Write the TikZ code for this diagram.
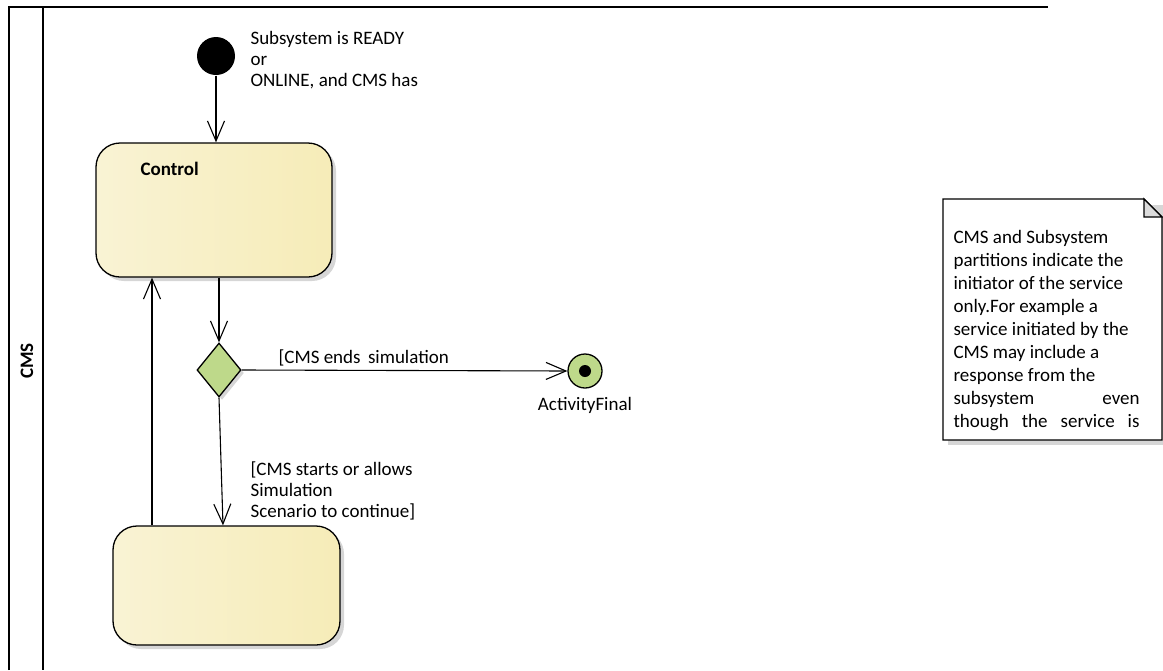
\documentclass[tikz,border=0pt]{standalone}
\usepackage{fontspec}
\setmainfont{Carlito}
\usetikzlibrary{
    arrows.meta,
    positioning,
    shapes.geometric,
    shadows,
    calc
}

\definecolor{actfill}{RGB}{246,236,184}
\definecolor{actlight}{RGB}{249,243,212}
\definecolor{decfill}{RGB}{190,217,138}
\definecolor{shadegray}{RGB}{214,214,214}
\definecolor{foldgray}{RGB}{220,220,220}

\begin{document}
\begin{tikzpicture}[
  x = 1pt, y = -1pt,
  >={Straight Barb[length=20pt, width=17pt]},
  line width = 1.1pt,
  every node/.style = {font=\fontsize{19}{21}\selectfont},
  action/.style   = {rectangle, rounded corners=24pt, draw, line width=1.3pt,
                     inner sep=0pt, left color=actlight, middle color=actfill,
                     right color=actfill,
                     drop shadow={shadow xshift=4pt, shadow yshift=-4pt,
                                  fill=shadegray, opacity=1}},
  decision/.style = {diamond, draw, line width=1.3pt, fill=decfill, inner sep=0pt,
                     minimum width=44pt, minimum height=54pt,
                     drop shadow={shadow xshift=3pt, shadow yshift=-3pt,
                                  fill=shadegray, opacity=1}},
  start/.style    = {circle, fill=black, inner sep=0pt, minimum size=38pt},
  finish/.style   = {circle, draw, line width=1.3pt, fill=decfill, inner sep=0pt,
                     minimum size=34pt},
  guard/.style    = {align=left, inner sep=0pt, anchor=north west},
  frameline/.style = {line width=1.7pt}
]
\useasboundingbox (0,0) rectangle (1163,670);

% Partition frame
\draw[frameline] (9,670) -- (9,7) -- (1048,7);
\draw[frameline] (43,7) -- (43,670);
\node[rotate=90, font=\fontsize{19}{21}\selectfont\bfseries] (lane) at (27,361) {CMS};

% Nodes
\node[start] (init) at (216,56) {};
\node[action, minimum width=236pt, minimum height=134pt] (ctrl) at (214,210) {};
\node[font=\fontsize{19}{21}\selectfont\bfseries, anchor=west, inner sep=0pt]
  (ctrllbl) at (140,169) {Control};
\node[decision] (dec) at (219,370) {};
\node[finish] (final) at (585,371) {};
\node[circle, fill=black, inner sep=0pt, minimum size=12pt] (finaldot) at (final) {};
\node[inner sep=0pt, below=8pt of final] (finallbl) {ActivityFinal};
\node[action, minimum width=227pt, minimum height=119pt] (sim) at (226.5,585.5) {};

% Guards and notes
\node[guard] (initlbl) at (250,31) {Subsystem is READY\\or\\ONLINE, and CMS has};
\node[guard] (endlbl) at (278,349) {[CMS ends\ \,simulation};
\node[guard] (contlbl) at (250,461) {[CMS starts or allows\\Simulation\\Scenario to continue]};

% Note
\fill[shadegray] (948,205) rectangle (1166,445);
\draw[line width=1.3pt, fill=white] (943,199) -- (1144,199) -- (1162,217)
  -- (1162,440) -- (943,440) -- cycle;
\filldraw[line width=1.3pt, fill=foldgray] (1144,199) -- (1144,217) -- (1162,217) -- cycle;
\node[guard, font=\fontsize{19}{23}\selectfont] (notetext) at (953,230)
  {CMS and Subsystem\\partitions indicate the\\initiator of the service\\
   only.For example a\\service initiated by the\\CMS may include a\\
   response from the\\\makebox[186pt][s]{subsystem even}\\
   \makebox[186pt][s]{though the service is}};

% Connectors
\coordinate (back) at (152,0);
\draw[->] (init.south) -- (init.south |- ctrl.north);
\draw[->] (dec.north |- ctrl.south) -- (dec.north);
\draw[->] (dec.east) -- (final.west);
\draw[->] (dec.south) -- ([xshift=-3.5pt]sim.north);
\draw[->] (sim.north -| back) -- (ctrl.south -| back);

\end{tikzpicture}
\end{document}
